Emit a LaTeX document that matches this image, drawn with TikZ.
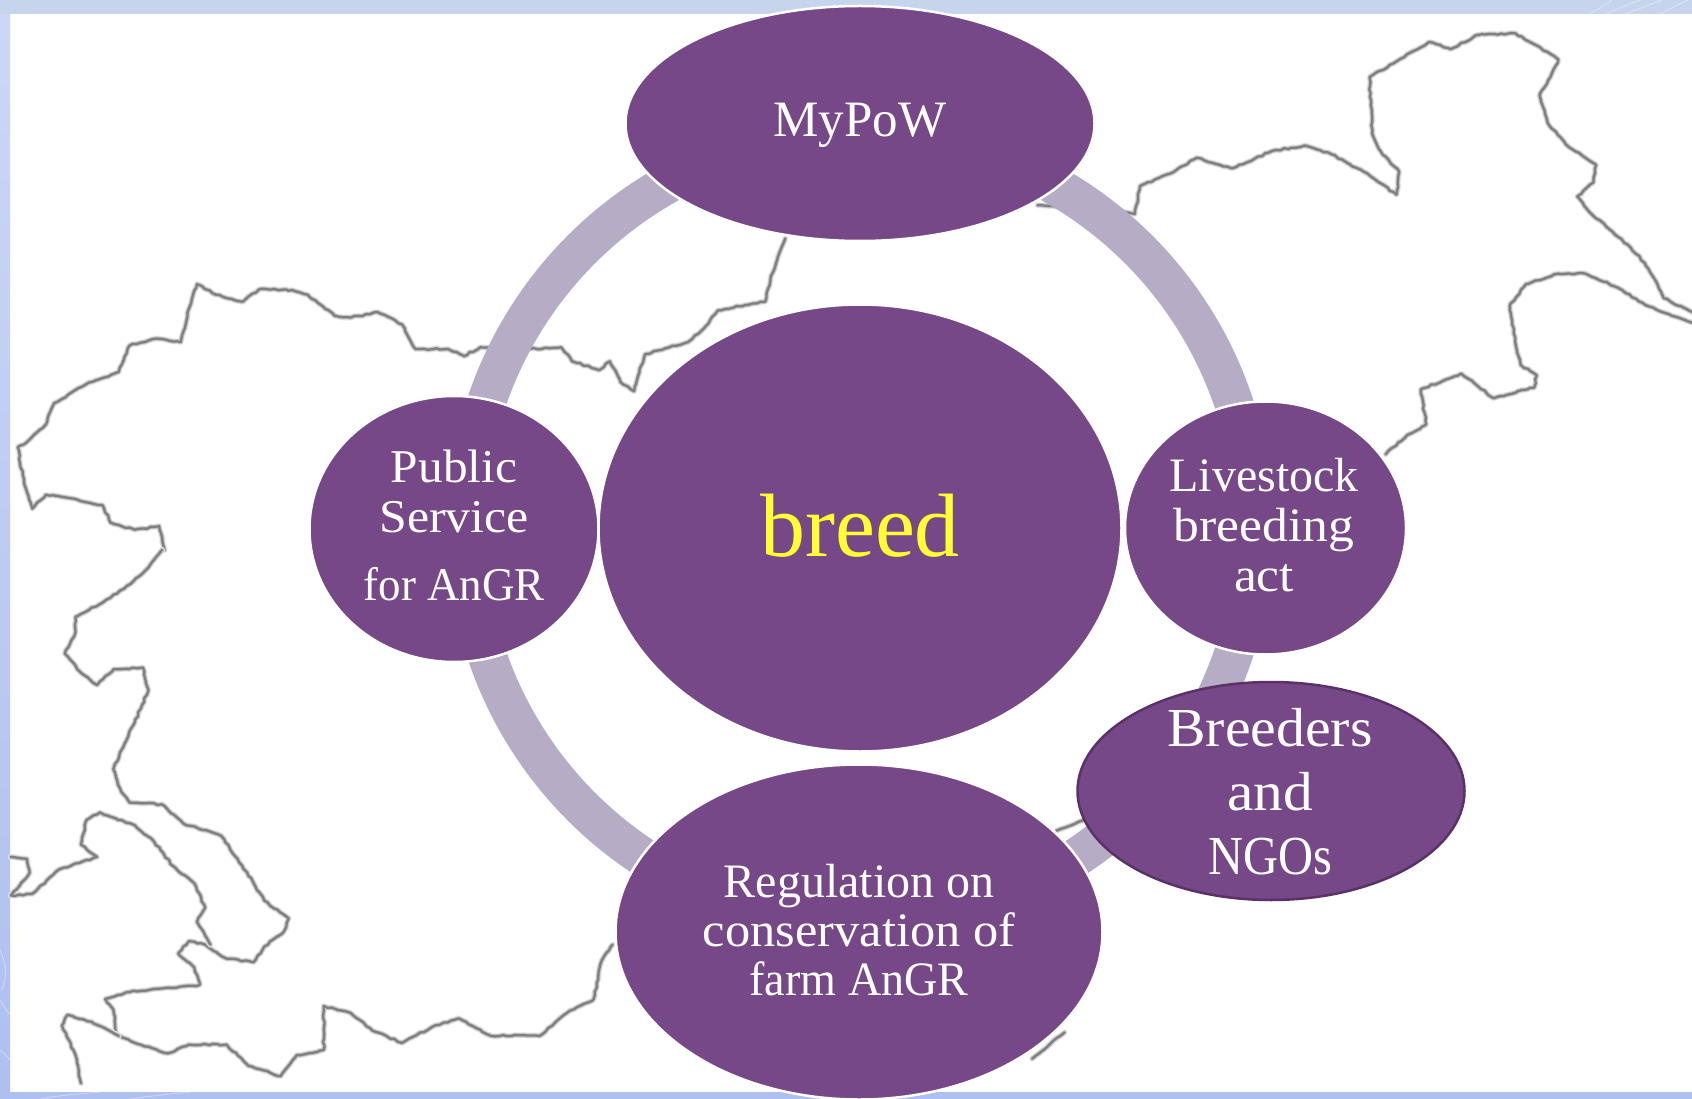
\documentclass[tikz,border=0pt]{standalone}
\usepackage{fontspec}
\usepackage{graphicx}
\setmainfont{Liberation Serif}
\usetikzlibrary{shapes.geometric,calc,decorations.pathmorphing}
\pgfdeclarelayer{under}
\pgfsetlayers{under,main}
\definecolor{plum}{HTML}{764888}
\definecolor{ringc}{HTML}{B7ACC5}
\definecolor{plumdark}{HTML}{5A3268}
\definecolor{frametop}{HTML}{C6D5EC}
\definecolor{framemid}{HTML}{CBD7F6}
\definecolor{framelow}{HTML}{AEC0F0}
\newcommand{\maptrace}[1]{%
  \pgfmathsetseed{11}\draw[mapa] plot coordinates {#1};
  \pgfmathsetseed{11}\draw[mapb] plot coordinates {#1};
  \pgfmathsetseed{11}\draw[mapc] plot coordinates {#1};
}
\newcommand{\txt}[1]{\fontsize{#1}{#1}\selectfont}
\newcommand{\sx}[2]{\scalebox{#1}[1]{#2}}
\tikzset{
  x=1pt,y=1pt,
  mapbase/.style={decorate,decoration={random steps,segment length=4pt,amplitude=.8pt},line join=round,line cap=round},
  mapa/.style={mapbase,draw=black!9,line width=6pt},
  mapb/.style={mapbase,draw=black!24,line width=4.2pt},
  mapc/.style={mapbase,draw=black!50,line width=2.3pt},
  bubble/.style={ellipse,fill=plum,draw=white,line width=2.5pt,inner sep=0pt},
  captext/.style={text=white,align=center,inner sep=0pt},
  ringarc/.style={draw=ringc,line width=39pt},
  swirl/.style={draw=white,opacity=.35,line width=1pt},
  tl/.style={xscale=.5397,yscale=-.3508},
  tr/.style={shift={(846,0)},xscale=.5397,yscale=-.3508},
  bl/.style={shift={(0,-550)},xscale=.5397,yscale=-.3508},
  br/.style={shift={(846,-550)},xscale=.5397,yscale=-.3508},
}
\begin{document}
\begin{tikzpicture}
\useasboundingbox (0,0) rectangle (1692,-1099);
\begin{pgfonlayer}{under}
  \fill[fill=white] (0,0) rectangle (1692,-1099);
  \fill[fill=frametop] (0,0) rectangle (1692,-14.5);
  \shade[top color=framemid,bottom color=framelow] (0,-14.5) rectangle (10,-1092);
  \fill[fill=framelow] (0,-1092) rectangle (1692,-1099);
  \draw[swirl] (1590,-14) .. controls (1600,-8) and (1606,-4) .. (1612,0);
  \draw[swirl] (1605,-14) .. controls (1618,-9) and (1628,-4) .. (1640,0);
  \draw[swirl] (1625,-14) .. controls (1640,-9) and (1650,-4) .. (1662,0);
  \draw[swirl] (1660,-14) .. controls (1670,-9) and (1678,-4) .. (1688,0);
  \draw[swirl] (0,-950) .. controls (5,-960) and (8,-975) .. (2,-990);
  \draw[swirl] (0,-1000) .. controls (4,-1006) and (7,-1012) .. (10,-1014);
  \draw[swirl] (0,-1050) .. controls (4,-1053) and (7,-1056) .. (10,-1060);
  \draw[swirl] (40,-1099) .. controls (60,-1095) and (80,-1094) .. (100,-1092);
  \draw[swirl] (130,-1099) .. controls (150,-1096) and (170,-1094) .. (190,-1092);
  \begin{scope}[tl]
    \maptrace{(1455,680)(1440,740)(1428,790)(1418,860)(1380,870)(1330,885)(1305,935)(1275,975)(1240,990)(1195,1010)(1185,1060)(1175,1115)(1150,1090)(1130,1030)(1110,1055)(1060,1030)(1040,990)(980,995)(890,990)(860,1015)(830,995)(770,995)(745,925)(700,890)(650,905)(620,900)(570,840)(530,825)(480,825)(450,860)(400,840)(365,810)(350,880)(335,975)(290,965)(240,985)(220,1060)(160,1095)(100,1150)(85,1210)(50,1260)(33,1275)(45,1380)(60,1450)(85,1410)(130,1420)(190,1440)(205,1490)(250,1510)(295,1500)(305,1568)}
  \end{scope}
  \begin{scope}[bl]
    \maptrace{(300,0)(275,50)(230,110)(190,150)(140,190)(140,235)(120,295)(150,350)(180,385)(210,340)(265,335)(275,400)(250,490)(225,570)(210,625)(225,690)(240,720)(300,725)(340,780)(410,815)(440,880)(470,950)(490,1000)(535,1050)(525,1090)(490,1130)(470,1175)(420,1165)(380,1125)(350,1115)(330,1150)(360,1190)(370,1240)(300,1250)(240,1260)(195,1280)(210,1310)(215,1380)(260,1410)(310,1435)(350,1410)(420,1410)(460,1470)(520,1500)(550,1440)(600,1425)(600,1300)(650,1320)(690,1370)(745,1405)(800,1360)(850,1335)(910,1385)(1000,1385)(1050,1320)(1100,1280)(1115,1170)(1135,1125)}
    \maptrace{(20,875)(50,880)(55,920)(20,985)(60,980)(110,910)(180,875)(150,840)(160,770)(185,748)(250,785)(285,830)(320,900)(360,950)(380,1020)(365,1060)(390,1125)}
    \maptrace{(220,1385)(170,1345)(125,1325)(115,1355)(140,1440)(150,1520)}
  \end{scope}
  \begin{scope}[tr]
    \maptrace{(355,585)(450,590)(535,610)(545,530)(600,495)(650,450)(715,480)(790,430)(850,415)(900,440)(960,490)(1020,555)(1025,490)(990,430)(975,380)(970,220)(1020,175)(1080,120)(1120,140)(1170,100)(1240,95)(1280,130)(1320,170)(1305,220)(1285,270)(1300,350)(1340,420)(1390,470)(1385,520)(1355,560)(1375,600)(1420,660)(1470,730)(1500,800)(1515,850)(1568,890)}
    \maptrace{(1568,920)(1530,900)(1470,860)(1430,820)(1370,780)(1320,780)(1260,810)(1230,870)(1240,970)(1250,1040)(1280,1070)(1275,1105)(1200,1135)(1140,1065)(1065,1110)(1075,1210)(1040,1240)(1000,1295)}
  \end{scope}
  \begin{scope}[br]
    \maptrace{(390,800)(440,770)}
    \maptrace{(345,1450)(405,1375)}
  \end{scope}
\end{pgfonlayer}

\node[bubble,minimum width=469pt,minimum height=235pt,label={[captext,yshift=-2pt,font=\txt{51}]center:MyPoW}] (mypow) at (860,-123.5) {};
\node[bubble,minimum width=523pt,minimum height=447pt,label={[captext,yshift=2pt,font=\txt{90},text={rgb,255:red,255;green,255;blue,51}]center:breed}] (breed) at (860,-528) {};
\node[bubble,minimum width=289pt,minimum height=266pt,label={[captext,yshift=4pt,font=\txt{47}]center:{\sx{1.05}{Public}\\[3pt]\sx{1.06}{Service}\\[21pt]\sx{.955}{for AnGR}}}] (public) at (454,-529) {};
\node[bubble,minimum width=281pt,minimum height=253pt,label={[captext,xshift=-1.5pt,yshift=3pt,font=\txt{48}]center:{Livestock\\[2pt]\sx{1.075}{breeding}\\[2pt]\sx{1.07}{act}}}] (live) at (1265.5,-528) {};
\node[bubble,minimum width=487pt,minimum height=335pt,label={[captext,yshift=2pt,font=\txt{48}]center:{Regulation on\\[1pt]\sx{1.05}{conservation of}\\[1pt]\sx{.96}{farm AnGR}}}] (reg) at (859,-932) {};
\node[bubble,draw=plumdark,minimum width=387pt,minimum height=218pt,label={[captext,xshift=-1pt,yshift=-1pt,font=\txt{55}]center:{\sx{1.05}{Breeders}\\[9pt]\sx{1.08}{and}\\[9pt]\sx{.88}{NGOs}}}] (ngo) at (1271,-791) {};

\coordinate (ringN) at ($(breed.center)+(90:394)$);
\coordinate (ringE) at ($(breed.center)+(0:394)$);
\coordinate (ringS) at ($(breed.center)+(-90:394)$);
\coordinate (ringW) at ($(breed.center)+(180:394)$);
\begin{pgfonlayer}{under}
  \draw[ringarc] (ringN) to[out=0,in=90,distance=217.6pt] (ringE);
  \draw[ringarc] (ringE) to[out=-90,in=0,distance=217.6pt] (ringS);
  \draw[ringarc] (ringS) to[out=180,in=-90,distance=217.6pt] (ringW);
  \draw[ringarc] (ringW) to[out=90,in=180,distance=217.6pt] (ringN);
\end{pgfonlayer}
\end{tikzpicture}
\end{document}
